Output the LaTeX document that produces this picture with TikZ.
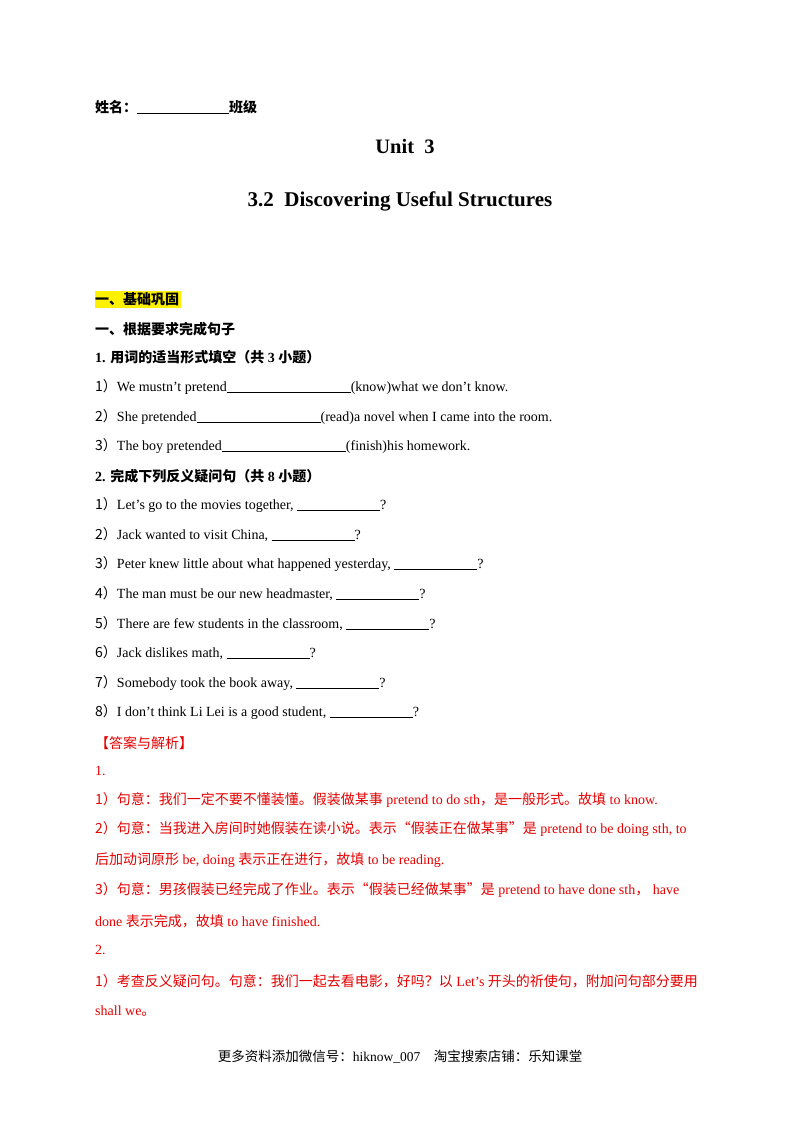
\documentclass[tikz,border=0pt]{standalone}
\usepackage{fontspec}
\setmainfont{Liberation Serif}
\newfontfamily\cj{Noto Sans CJK SC}
\newcommand\C[1]{{\cj #1}}
\newcommand\B[1]{\rule[-1pt]{#1pt}{0.6pt}}
\definecolor{ans}{RGB}{230,0,0}
\begin{document}
\begin{tikzpicture}[x=1pt,y=-1pt,
  t/.style={anchor=west,inner sep=0pt,font=\fontsize{14}{16}\selectfont},
  a/.style={t,text=ans},
  h/.style={t,font=\fontsize{14}{16}\selectfont\bfseries}]
\useasboundingbox[fill=white] (0,0) rectangle (800,1132);
\node[h] (n0) at (95,107) {\C{姓名：}\B{92}\C{班级}};
\node[inner sep=0pt,font=\fontsize{20.5}{24}\selectfont\bfseries] (u) at (405,146) {Unit\ \ 3};
\node[inner sep=0pt,font=\fontsize{21}{24}\selectfont\bfseries] (tt) at (400,201) {3.2\ \ Discovering Useful Structures};
\fill[yellow] (95,291) rectangle (181,308);
\node[h] (s1) at (95,299) {\C{一、基础巩固}};
\node[h] (s2) at (95,329) {\C{一、根据要求完成句子}};
\node[h] (s3) at (95,357) {1. \C{用词的适当形式填空（共} 3 \C{小题）}};
\node[t] (q1) at (95,387) {\C{1）}We mustn't pretend\B{124}(know)what we don't know.};
\node[t] (q2) at (95,417) {\C{2）}She pretended\B{124}(read)a novel when I came into the room.};
\node[t] (q3) at (95,446) {\C{3）}The boy pretended\B{124}(finish)his homework.};
\node[h] (s4) at (95,476) {2. \C{完成下列反义疑问句（共} 8 \C{小题）}};
\node[t] (r1) at (95,505) {\C{1）}Let’s go to the movies together, \B{83}?};
\node[t] (r2) at (95,535) {\C{2）}Jack wanted to visit China, \B{83}?};
\node[t] (r3) at (95,564) {\C{3）}Peter knew little about what happened yesterday, \B{83}?};
\node[t] (r4) at (95,594) {\C{4）}The man must be our new headmaster, \B{83}?};
\node[t] (r5) at (95,624) {\C{5）}There are few students in the classroom, \B{83}?};
\node[t] (r6) at (95,653) {\C{6）}Jack dislikes math, \B{83}?};
\node[t] (r7) at (95,683) {\C{7）}Somebody took the book away, \B{83}?};
\node[t] (r8) at (95,712) {\C{8）}I don’t think Li Lei is a good student, \B{83}?};
\node[a] (k0) at (95,743) {\C{【答案与解析】}};
\node[a] (k1) at (95,771) {1.};
\node[a] (k2) at (95,800) {\C{1）句意：我们一定不要不懂装懂。假装做某事} pretend to do sth\C{，是一般形式。故填} to know.};
\node[a] (k3) at (95,829) {\C{2）句意：当我进入房间时她假装在读小说。表示“假装正在做某事”是} pretend to be doing sth, to};
\node[a] (k4) at (95,860) {\C{后加动词原形} be, doing \C{表示正在进行，故填} to be reading.};
\node[a] (k5) at (95,890) {\C{3）句意：男孩假装已经完成了作业。表示“假装已经做某事”是} pretend to have done sth\C{，}\ have};
\node[a] (k6) at (95,921) {done \C{表示完成，故填} to have finished.};
\node[a] (k7) at (95,950) {2.};
\node[a] (k8) at (95,981) {\C{1）考查反义疑问句。句意：我们一起去看电影，好吗？以} Let’s \C{开头的祈使句，附加问句部分要用}};
\node[a] (k9) at (95,1011) {shall we\C{。}};
\node[inner sep=0pt,font=\fontsize{13.5}{16}\selectfont] (f) at (400,1057) {\C{更多资料添加微信号：}hiknow\_007\quad\C{淘宝搜索店铺：乐知课堂}};
\end{tikzpicture}
\end{document}
